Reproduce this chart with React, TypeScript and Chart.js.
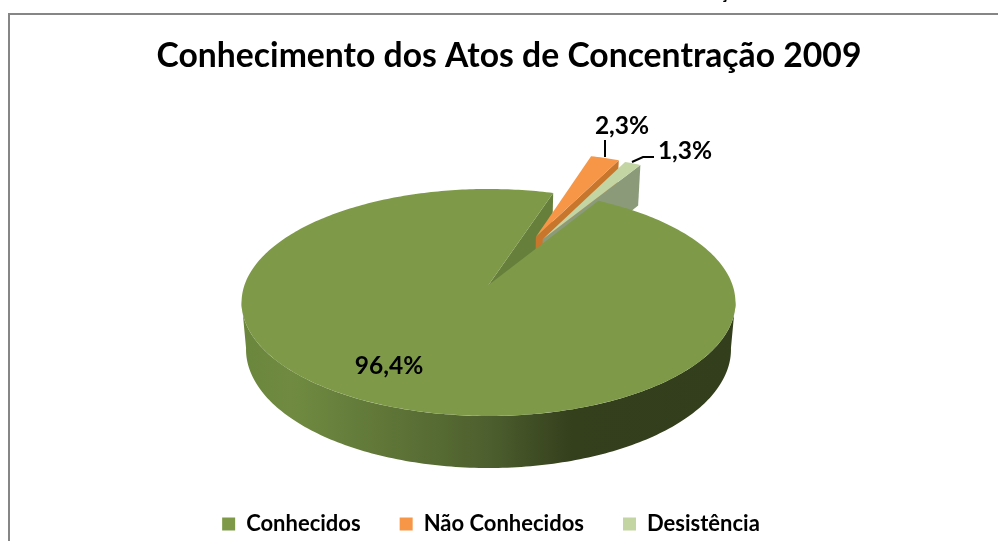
import React, { useEffect, useRef } from "react";
import { Chart, registerables } from "chart.js";

Chart.register(...registerables);

const chartTitle = "Conhecimento dos Atos de Concentração 2009";
const categories = ["Conhecidos", "Não Conhecidos", "Desistência"];
const shares = [96.4, 2.3, 1.3];
const explode = [0, 0.5, 0.5];
const nudge = [0, 0.022, 0];
const topColors = ["#7e9a48", "#f79646", "#c3d5a3"];
const wallColors = ["#667f3a", "#c8762c", "#8b9b7a"];

const FONT = "Lato, Carlito, sans-serif";
const CX = 488.5;
const CY = 285;
const K = -0.154;
const A = 110.8;
const B = 244;
const DEPTH_Y = 47.3;
const DEPTH_W = 0.018;

function project(u: number, v: number, z: number): [number, number] {
  const w = 1 + K * v + DEPTH_W * z;
  return [CX + (B * u) / w, CY + (A * v + DEPTH_Y * z) / w];
}

function trace(ctx: CanvasRenderingContext2D, pts: [number, number][]) {
  ctx.beginPath();
  pts.forEach((p, i) => (i ? ctx.lineTo(p[0], p[1]) : ctx.moveTo(p[0], p[1])));
  ctx.closePath();
}

function arcPoints(a0: number, a1: number, ox: number, oy: number, z: number) {
  const n = Math.max(4, Math.ceil(Math.abs(a1 - a0) * 60));
  const out: [number, number][] = [];
  for (let i = 0; i <= n; i++) {
    const a = a0 + ((a1 - a0) * i) / n;
    out.push(project(ox + Math.cos(a), oy + Math.sin(a), z));
  }
  return out;
}

function drawWall(ctx: CanvasRenderingContext2D, a: number, ox: number, oy: number, color: string) {
  const c0 = project(ox, oy, 0);
  const c1 = project(ox, oy, 1);
  const e0 = project(ox + Math.cos(a), oy + Math.sin(a), 0);
  const e1 = project(ox + Math.cos(a), oy + Math.sin(a), 1);
  trace(ctx, [c0, e0, e1, c1]);
  ctx.fillStyle = color;
  ctx.fill();
}

const pie3d = {
  id: "pie3d",
  beforeDraw(chart: any) {
    const { ctx } = chart;
    ctx.save();
    ctx.fillStyle = "#ffffff";
    ctx.fillRect(0, 0, 998, 541);
    ctx.strokeStyle = "#868686";
    ctx.lineWidth = 2;
    ctx.beginPath();
    ctx.moveTo(9, 541);
    ctx.lineTo(9, 14);
    ctx.lineTo(998, 14);
    ctx.stroke();
    ctx.fillStyle = "#000000";
    ctx.font = `bold 18px ${FONT}`;
    ctx.textAlign = "center";
    ctx.textBaseline = "alphabetic";
    ctx.fillText("ç", 724, -1);
    ctx.restore();
  },
  afterLayout(chart: any) {
    chart.titleBlock.left = 20;
    chart.titleBlock.right = 998;
    chart.legend.left = 0;
    chart.legend.right = 982;
    chart.legend.top += 8;
  },
  beforeDatasetDraw(chart: any) {
    const { ctx } = chart;
    const arcs = chart.getDatasetMeta(0).data;
    ctx.save();

    // main slice: notch wall, then the outer rim with its horizontal shading
    const main = arcs[0];
    drawWall(ctx, main.endAngle, 0, 0, wallColors[0]);
    const t0 = (8 * Math.PI) / 180;
    const rim = [...arcPoints(t0, Math.PI - t0, 0, 0, 0), ...arcPoints(Math.PI - t0, t0, 0, 0, 1)];
    const grad = ctx.createLinearGradient(241, 0, 735, 0);
    grad.addColorStop(0, "#6a853c");
    grad.addColorStop(0.1, "#708b41");
    grad.addColorStop(0.5, "#4d5f2e");
    grad.addColorStop(0.67, "#343f1c");
    grad.addColorStop(1, "#333f1c");
    trace(ctx, rim);
    ctx.fillStyle = grad;
    ctx.fill();

    // exploded slices, behind the main top face
    [1, 2].forEach((i) => {
      const arc = arcs[i];
      const mid = (arc.startAngle + arc.endAngle) / 2;
      const ox = explode[i] * Math.cos(mid) + nudge[i];
      const oy = explode[i] * Math.sin(mid);
      drawWall(ctx, arc.endAngle, ox, oy, wallColors[i]);
      trace(ctx, [project(ox, oy, 0), ...arcPoints(arc.startAngle, arc.endAngle, ox, oy, 0)]);
      ctx.fillStyle = topColors[i];
      ctx.fill();
    });

    // main top face
    trace(ctx, [project(0, 0, 0), ...arcPoints(main.startAngle, main.endAngle, 0, 0, 0)]);
    ctx.fillStyle = topColors[0];
    ctx.fill();
    ctx.restore();
    return false;
  },
  afterDatasetsDraw(chart: any) {
    const { ctx } = chart;
    const values = chart.data.datasets[0].data as number[];
    const spots: [number, number][] = [
      [389, 366],
      [622, 126],
      [685, 151],
    ];
    ctx.save();
    ctx.strokeStyle = "#000000";
    ctx.lineWidth = 2;
    ctx.beginPath();
    ctx.moveTo(605, 140);
    ctx.lineTo(605, 157);
    ctx.moveTo(632, 162);
    ctx.lineTo(643, 157);
    ctx.lineTo(654, 157);
    ctx.stroke();
    ctx.fillStyle = "#000000";
    ctx.font = `bold 24.5px ${FONT}`;
    ctx.textAlign = "center";
    ctx.textBaseline = "middle";
    values.forEach((v, i) => {
      ctx.fillText(`${v.toFixed(1).replace(".", ",")}%`, spots[i][0], spots[i][1]);
    });
    ctx.restore();
  },
};

export default function App() {
  const ref = useRef<HTMLCanvasElement>(null);
  useEffect(() => {
    const chart = new Chart(ref.current as HTMLCanvasElement, {
      type: "pie",
      data: {
        labels: categories,
        datasets: [{ data: shares, backgroundColor: topColors, borderWidth: 0 }],
      },
      options: {
        animation: false,
        responsive: false,
        rotation: 30.66,
        layout: { padding: { top: 0, bottom: 4 } },
        plugins: {
          title: {
            display: true,
            text: chartTitle,
            color: "#000000",
            font: { family: FONT, size: 33.7, weight: "bold" },
            padding: { top: 36, bottom: 0 },
          },
          legend: {
            position: "bottom",
            labels: {
              color: "#000000",
              font: { family: FONT, size: 22, weight: "bold" },
              boxWidth: 13,
              boxHeight: 13,
              padding: 39,
            },
          },
          tooltip: { enabled: false },
        },
      },
      plugins: [pie3d],
    } as any);
    return () => chart.destroy();
  }, []);
  return (
    <div style={{ position: "fixed", left: 0, top: 0, width: 998, height: 541 }}>
      <canvas ref={ref} width={998} height={541} style={{ display: "block" }} />
    </div>
  );
}
